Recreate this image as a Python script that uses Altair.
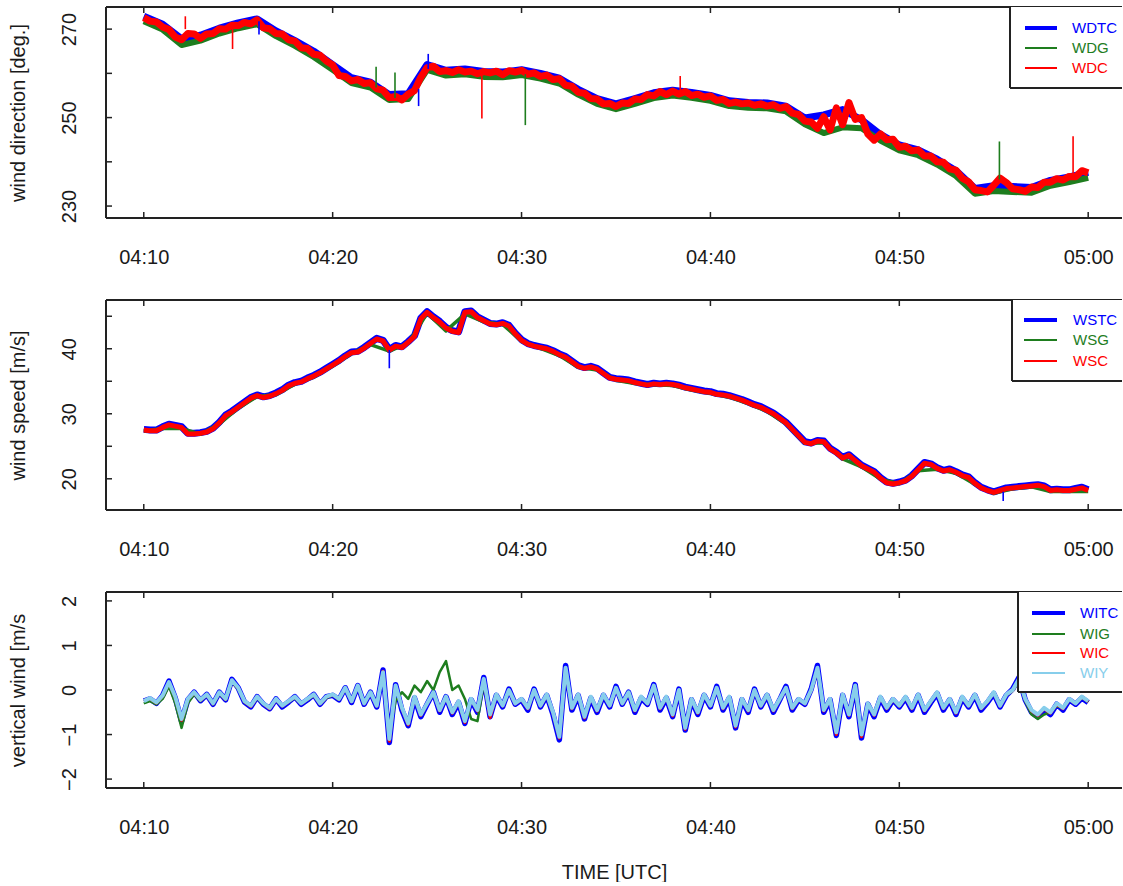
import altair as alt
import pandas as pd

# Sample clocks, minutes after 04:00 UTC
T20 = [10 + i / 3 for i in range(151)]  # 20 s resolution
T60 = list(range(10, 61))               # 1 min resolution

# ---------------- wind direction [deg.] ----------------
WDC = [
    272.6, 271.8, 271.6, 270.5, 269.9, 268.2, 267.6, 269.0, 268.9, 267.9, 268.9, 269.0, 270.1, 270.0, 270.9,
    270.8, 271.5, 271.2, 272.1, 270.3, 270.1, 269.0, 268.9, 267.6, 267.3, 265.8, 265.6, 264.3, 264.1, 262.8,
    261.9, 259.5, 259.3, 258.3, 258.6, 257.7, 257.9, 256.5, 256.2, 254.5, 254.8, 254.0, 255.3, 256.1, 259.1,
    261.3, 261.6, 260.4, 260.6, 260.2, 260.8, 260.3, 260.5, 259.9, 260.4, 260.1, 260.5, 259.7, 260.6, 260.3,
    260.7, 259.8, 260.1, 259.3, 259.6, 258.6, 258.8, 257.3, 257.1, 255.7, 255.5, 254.3, 254.2, 253.1, 253.2,
    252.5, 253.3, 253.2, 254.2, 254.1, 255.2, 254.9, 255.9, 255.2, 256.0, 255.3, 255.9, 255.0, 255.3, 254.6,
    254.9, 253.9, 254.1, 253.2, 253.5, 253.1, 253.3, 252.8, 253.1, 252.6, 252.9, 252.1, 252.5, 251.0, 250.7,
    249.2, 249.0, 247.6, 250.2, 247.2, 252.2, 248.4, 253.4, 249.6, 250.0, 246.3, 244.9, 246.3, 245.0, 245.1,
    243.3, 243.5, 242.5, 242.7, 241.3, 241.3, 240.0, 239.9, 238.4, 238.1, 236.3, 235.5, 233.7, 233.5, 233.2,
    234.7, 236.3, 235.3, 233.9, 233.7, 233.3, 234.3, 234.2, 235.4, 235.4, 236.2, 235.9, 236.7, 236.6, 238.0,
    237.5,
]
WDG = [
    271.8, 269.9, 266.4, 267.4, 269.0, 270.2, 271.1, 268.4, 266.2, 263.7, 260.8, 257.8, 256.8, 254.0, 254.2,
    260.8, 259.5, 259.8, 259.2, 259.1, 259.6, 258.8, 257.7, 255.2, 253.1, 251.9, 253.1, 254.4, 255.0, 254.5,
    253.8, 252.6, 252.2, 252.1, 251.4, 248.5, 246.5, 247.8, 247.6, 244.8, 242.6, 241.5, 239.4, 236.8, 232.8,
    233.4, 233.2, 233.0, 234.6, 235.4, 236.4,
]
WDTC = [
    272.9, 271.1, 267.8, 268.6, 270.2, 271.4, 272.3, 269.6, 267.4, 265.0, 262.0, 259.0, 258.0, 255.2, 255.4,
    262.0, 260.7, 261.0, 260.4, 260.3, 260.8, 260.0, 258.9, 256.4, 254.3, 253.1, 254.3, 255.6, 256.2, 255.7,
    255.0, 253.8, 253.4, 253.3, 252.6, 249.9, 250.6, 251.8, 249.5, 246.2, 243.8, 242.7, 240.6, 238.0, 234.0,
    234.6, 234.4, 234.2, 235.8, 236.6, 237.6,
]
# single-sample outliers: time, level, tip
WD_SPIKE_SERIES = ["WDC", "WDC", "WDC", "WDC", "WDC", "WDG", "WDG", "WDG", "WDG", "WDTC", "WDTC", "WDTC"]
WD_SPIKE_T = [12.2, 14.7, 27.9, 38.4, 59.2, 22.3, 23.3, 30.2, 55.3, 16.1, 24.55, 25.06]
WD_SPIKE_FROM = [270.0, 270.5, 260.2, 255.6, 236.6, 256.8, 254.4, 259.8, 236.0, 271.8, 256.5, 261.0]
WD_SPIKE_TO = [272.9, 265.5, 249.8, 259.4, 245.8, 261.5, 260.2, 248.3, 244.6, 268.8, 252.6, 264.4]

# ---------------- wind speed [m/s] ----------------
WSC = [
    27.5, 27.4, 27.4, 27.9, 28.3, 28.1, 27.9, 26.9, 26.9, 27.0, 27.2, 27.7, 28.6, 29.7, 30.3,
    31.0, 31.7, 32.4, 32.8, 32.5, 32.7, 33.1, 33.6, 34.3, 34.7, 34.9, 35.4, 35.8, 36.3, 36.9,
    37.5, 38.1, 38.8, 39.4, 39.5, 40.1, 40.8, 41.5, 41.2, 39.8, 40.4, 40.2, 41.0, 41.9, 44.6,
    45.6, 44.8, 44.1, 43.2, 42.7, 42.5, 45.6, 45.7, 44.8, 44.3, 43.8, 43.7, 43.9, 43.5, 42.3,
    41.3, 40.7, 40.4, 40.2, 40.0, 39.6, 39.1, 38.7, 38.0, 37.3, 37.0, 37.2, 36.9, 36.2, 35.5,
    35.3, 35.2, 35.1, 34.8, 34.6, 34.4, 34.6, 34.5, 34.6, 34.5, 34.3, 34.0, 33.8, 33.6, 33.4,
    33.3, 33.0, 32.9, 32.7, 32.4, 32.1, 31.7, 31.3, 31.0, 30.5, 30.0, 29.3, 28.6, 27.6, 26.6,
    25.6, 25.4, 25.8, 25.7, 24.6, 24.0, 23.2, 23.6, 22.8, 22.0, 21.5, 21.0, 20.1, 19.4, 19.2,
    19.4, 19.7, 20.4, 21.4, 22.4, 22.2, 21.6, 21.2, 21.4, 21.0, 20.5, 20.2, 19.3, 18.6, 18.2,
    17.9, 18.2, 18.5, 18.6, 18.7, 18.8, 18.9, 19.0, 18.8, 18.2, 18.3, 18.2, 18.2, 18.4, 18.6,
    18.2,
]
WSTC = [
    27.6, 27.5, 27.5, 28.0, 28.4, 28.2, 28.0, 27.0, 27.0, 27.1, 27.3, 27.8, 28.7, 29.8, 30.4,
    31.1, 31.8, 32.5, 32.9, 32.6, 32.8, 33.2, 33.7, 34.4, 34.8, 35.0, 35.5, 35.9, 36.4, 37.0,
    37.6, 38.2, 38.9, 39.5, 39.6, 40.2, 40.9, 41.6, 41.3, 39.9, 40.5, 40.3, 41.1, 42.0, 44.7,
    45.7, 44.9, 44.2, 43.3, 42.8, 42.6, 45.7, 45.8, 44.9, 44.4, 43.9, 43.8, 44.0, 43.6, 42.4,
    41.4, 40.8, 40.5, 40.3, 40.1, 39.7, 39.2, 38.8, 38.1, 37.4, 37.1, 37.3, 37.0, 36.3, 35.6,
    35.4, 35.3, 35.2, 34.9, 34.7, 34.5, 34.7, 34.6, 34.7, 34.6, 34.4, 34.1, 33.9, 33.7, 33.5,
    33.4, 33.1, 33.0, 32.8, 32.5, 32.2, 31.8, 31.4, 31.1, 30.6, 30.1, 29.4, 28.7, 27.7, 26.7,
    25.7, 25.5, 25.9, 25.8, 24.7, 24.1, 23.3, 23.7, 22.9, 22.1, 21.6, 21.1, 20.2, 19.5, 19.3,
    19.5, 19.8, 20.5, 21.5, 22.5, 22.3, 21.7, 21.3, 21.5, 21.1, 20.6, 20.3, 19.4, 18.7, 18.3,
    18.0, 18.3, 18.6, 18.7, 18.8, 18.9, 19.0, 19.1, 18.9, 18.3, 18.4, 18.3, 18.3, 18.5, 18.7,
    18.3,
]
WSG = [
    27.35, 27.75, 27.75, 26.85, 28.45, 30.85, 32.65, 32.95, 34.55, 35.65, 37.35, 39.25, 40.65, 39.65, 40.85,
    45.45, 42.75, 45.35, 44.15, 43.75, 41.15, 40.05, 38.95, 37.15, 36.75, 35.15, 34.65, 34.45, 34.35, 33.65,
    33.15, 32.55, 31.55, 30.35, 28.45, 25.45, 25.55, 23.05, 21.85, 19.95, 19.25, 21.25, 21.45, 20.85, 19.15,
    17.75, 18.45, 18.75, 18.05, 18.05, 18.05,
]
WS_SPIKE_SERIES = ["WSG", "WSG"]
WS_SPIKE_T = [23.0, 55.5]
WS_SPIKE_FROM = [39.8, 18.0]
WS_SPIKE_TO = [37.0, 16.6]

# ---------------- vertical wind [m/s] ----------------
WITC = [
    -0.25, -0.20, -0.30, -0.12, 0.20, -0.18, -0.70, -0.22, -0.05, -0.24, -0.10, -0.32, -0.05, -0.22, 0.24,
    0.05, -0.27, -0.38, -0.15, -0.32, -0.42, -0.20, -0.38, -0.27, -0.15, -0.32, -0.22, -0.10, -0.32, -0.15,
    -0.12, -0.22, 0.05, -0.28, 0.10, -0.32, -0.05, -0.38, 0.45, -1.18, 0.12, -0.45, -0.80, -0.18, -0.60,
    -0.32, -0.05, -0.50, -0.15, -0.55, -0.28, -0.75, -0.22, -0.50, 0.28, -0.60, -0.12, -0.38, 0.02, -0.32,
    -0.22, -0.45, 0.02, -0.38, -0.12, -0.55, -1.12, 0.55, -0.45, -0.12, -0.65, -0.18, -0.50, -0.12, -0.38,
    0.08, -0.32, -0.05, -0.50, -0.18, -0.32, 0.12, -0.45, -0.18, -0.60, 0.02, -0.90, -0.22, -0.55, -0.12,
    -0.38, 0.08, -0.45, -0.18, -0.85, -0.22, -0.50, 0.02, -0.38, -0.12, -0.50, -0.22, 0.08, -0.45, -0.22,
    -0.32, 0.02, 0.55, -0.50, -0.22, -1.02, -0.12, -0.60, 0.12, -1.08, -0.32, -0.60, -0.18, -0.45, -0.22,
    -0.38, -0.18, -0.45, -0.12, -0.50, -0.28, -0.08, -0.45, -0.22, -0.55, -0.18, -0.38, -0.12, -0.45, -0.28,
    -0.08, -0.38, -0.12, 0.02, 0.28, -0.22, -0.50, -0.60, -0.45, -0.55, -0.32, -0.45, -0.22, -0.32, -0.18,
    -0.28,
]
WIG = [
    -0.30, -0.25, -0.32, -0.20, 0.08, -0.30, -0.85, -0.30, -0.10, -0.25, -0.12, -0.32, -0.08, -0.22, 0.18,
    0.02, -0.28, -0.36, -0.18, -0.32, -0.40, -0.22, -0.36, -0.27, -0.18, -0.31, -0.22, -0.13, -0.31, -0.18,
    -0.12, -0.22, 0.03, -0.26, 0.08, -0.31, -0.07, -0.33, 0.35, -0.90, -0.25, -0.05, -0.20, 0.10, -0.05,
    0.20, 0.00, 0.40, 0.65, 0.00, 0.10, -0.20, -0.65, -0.70, 0.15, -0.50, -0.10, -0.35, 0.00, -0.30,
    -0.22, -0.41, -0.02, -0.36, -0.12, -0.51, -1.00, 0.45, -0.41, -0.12, -0.60, -0.17, -0.46, -0.12, -0.36,
    0.03, -0.31, -0.07, -0.46, -0.17, -0.31, 0.08, -0.41, -0.17, -0.56, -0.02, -0.84, -0.22, -0.51, -0.12,
    -0.36, 0.03, -0.41, -0.17, -0.79, -0.22, -0.46, -0.02, -0.36, -0.12, -0.46, -0.22, 0.03, -0.41, -0.22,
    -0.31, -0.02, 0.47, -0.46, -0.22, -0.93, -0.12, -0.56, 0.08, -0.97, -0.31, -0.56, -0.17, -0.41, -0.22,
    -0.36, -0.17, -0.41, -0.12, -0.46, -0.27, -0.07, -0.41, -0.22, -0.51, -0.17, -0.36, -0.12, -0.41, -0.27,
    -0.07, -0.36, -0.12, -0.02, 0.20, -0.25, -0.55, -0.65, -0.55, -0.50, -0.35, -0.42, -0.22, -0.31, -0.17,
    -0.27,
]
WIC = [
    -0.24, -0.19, -0.29, -0.13, 0.17, -0.16, -0.68, -0.21, -0.06, -0.23, -0.11, -0.31, -0.06, -0.21, 0.20,
    0.04, -0.26, -0.37, -0.16, -0.31, -0.42, -0.21, -0.36, -0.26, -0.16, -0.31, -0.21, -0.11, -0.31, -0.16,
    -0.11, -0.21, 0.04, -0.26, 0.09, -0.31, -0.06, -0.36, 0.42, -1.15, 0.09, -0.42, -0.78, -0.16, -0.57,
    -0.31, -0.06, -0.47, -0.16, -0.52, -0.26, -0.73, -0.21, -0.47, 0.23, -0.62, -0.11, -0.36, -0.01, -0.31,
    -0.21, -0.42, -0.01, -0.36, -0.11, -0.52, -1.08, 0.48, -0.42, -0.11, -0.63, -0.16, -0.47, -0.11, -0.36,
    0.04, -0.31, -0.06, -0.47, -0.16, -0.31, 0.09, -0.42, -0.16, -0.58, -0.01, -0.88, -0.21, -0.52, -0.11,
    -0.36, 0.04, -0.42, -0.16, -0.83, -0.21, -0.47, -0.01, -0.36, -0.11, -0.47, -0.21, 0.04, -0.42, -0.21,
    -0.31, -0.01, 0.48, -0.47, -0.21, -1.00, -0.11, -0.57, 0.09, -1.05, -0.31, -0.57, -0.16, -0.42, -0.21,
    -0.36, -0.16, -0.42, -0.11, -0.47, -0.26, -0.06, -0.42, -0.21, -0.52, -0.16, -0.36, -0.11, -0.42, -0.26,
    -0.06, -0.36, -0.11, -0.01, 0.23, -0.21, -0.47, -0.57, -0.42, -0.52, -0.31, -0.42, -0.21, -0.31, -0.16,
    -0.26,
]
WIY = [
    -0.25, -0.18, -0.28, -0.12, 0.18, -0.15, -0.65, -0.20, -0.05, -0.22, -0.10, -0.30, -0.05, -0.20, 0.22,
    0.05, -0.25, -0.35, -0.15, -0.30, -0.40, -0.20, -0.35, -0.25, -0.15, -0.30, -0.20, -0.10, -0.30, -0.15,
    -0.10, -0.20, 0.05, -0.25, 0.10, -0.30, -0.05, -0.35, 0.40, -1.10, 0.10, -0.40, -0.75, -0.15, -0.55,
    -0.30, -0.05, -0.45, -0.15, -0.50, -0.25, -0.70, -0.20, -0.45, 0.25, -0.55, -0.10, -0.35, 0.00, -0.30,
    -0.20, -0.40, 0.00, -0.35, -0.10, -0.50, -1.05, 0.50, -0.40, -0.10, -0.60, -0.15, -0.45, -0.10, -0.35,
    0.05, -0.30, -0.05, -0.45, -0.15, -0.30, 0.10, -0.40, -0.15, -0.55, 0.00, -0.85, -0.20, -0.50, -0.10,
    -0.35, 0.05, -0.40, -0.15, -0.80, -0.20, -0.45, 0.00, -0.35, -0.10, -0.45, -0.20, 0.05, -0.40, -0.20,
    -0.30, 0.00, 0.50, -0.45, -0.20, -0.95, -0.10, -0.55, 0.10, -1.00, -0.30, -0.55, -0.15, -0.40, -0.20,
    -0.35, -0.15, -0.40, -0.10, -0.45, -0.25, -0.05, -0.40, -0.20, -0.50, -0.15, -0.35, -0.10, -0.40, -0.25,
    -0.05, -0.35, -0.10, 0.00, 0.25, -0.20, -0.45, -0.55, -0.40, -0.50, -0.30, -0.40, -0.20, -0.30, -0.15,
    -0.25,
]

# ---------------- axes ----------------
X_TICKS = [10, 20, 30, 40, 50, 60]
WD_LABELS, WD_TICKS = [230, 250, 270], [230, 240, 250, 260, 270]
WS_LABELS, WS_TICKS = [20, 30, 40], [20, 25, 30, 35, 40, 45]
WI_LABELS = WI_TICKS = [-2, -1, 0, 1, 2]

FONT = "Liberation Sans"
INK = "#1a1a1a"
BLUE, GREEN, RED, SKY = "#0000FF", "#1E7D1E", "#FF0000", "#87CEEB"

W = 1016            # plot width in px
XDOM = [8, 61.79]   # minutes after 04:00
TICK = 6            # inward tick length
ONE = pd.DataFrame({"k": [0]})


def panel(lines, spikes, ydom, ylabels, yticks, ytitle, legend, height, xtitle=None):
    xs = alt.Scale(domain=XDOM, nice=False, zero=False)
    ys = alt.Scale(domain=ydom, nice=False, zero=False)
    xax = alt.Axis(
        values=X_TICKS, grid=False, domain=False, ticks=False, tickSize=0,
        labelExpr="datum.value >= 60 ? '05:00' : '04:' + datum.value",
        labelFont=FONT, labelFontSize=20, labelColor=INK, labelPadding=29,
        labelFlush=False, minExtent=50, maxExtent=50,
        title=xtitle, titleFont=FONT, titleFontSize=20, titleFontWeight="normal",
        titleColor=INK, titlePadding=24,
    )
    yax = alt.Axis(
        values=ylabels, grid=False, domain=False, ticks=False, tickSize=0,
        labelAngle=-90, labelAlign="center", labelBaseline="bottom",
        labelFont=FONT, labelFontSize=20, labelColor=INK, labelPadding=27,
        minExtent=50, maxExtent=50,
        title=ytitle, titleFont=FONT, titleFontSize=20, titleFontWeight="normal",
        titleColor=INK, titlePadding=28,
    )

    def X():
        return alt.X("t:Q", scale=xs, axis=xax)

    def Y():
        return alt.Y("v:Q", scale=ys, axis=yax)

    layers = []
    # measured series, drawn in plotting order
    for t, v, color, sw in lines:
        layers.append(
            alt.Chart(pd.DataFrame({"t": t, "v": v}))
            .mark_line(color=color, strokeWidth=sw, clip=True, strokeJoin="round")
            .encode(x=X(), y=Y())
        )
    if spikes is not None:
        names, tt, v0, v1, colors = spikes
        layers.append(
            alt.Chart(pd.DataFrame({"s": names, "t": tt, "v": v0, "v2": v1}))
            .mark_rule(strokeWidth=1.6, clip=True)
            .encode(
                x=X(), y=Y(), y2="v2:Q",
                color=alt.Color("s:N", scale=alt.Scale(domain=list(colors), range=list(colors.values())), legend=None),
            )
        )

    # frame (left, top, bottom)
    frame = dict(color="#222222", strokeWidth=2)
    layers.append(alt.Chart(ONE).mark_rule(**frame).encode(x=alt.value(0), x2=alt.value(W), y=alt.value(0)))
    layers.append(alt.Chart(ONE).mark_rule(**frame).encode(x=alt.value(0), x2=alt.value(W), y=alt.value(height)))
    layers.append(alt.Chart(ONE).mark_rule(**frame).encode(x=alt.value(0), y=alt.value(0), y2=alt.value(height)))

    # inward ticks
    tk = dict(color="#222222", strokeWidth=1.5)
    xt = pd.DataFrame({"t": X_TICKS})
    layers.append(alt.Chart(xt).mark_rule(**tk).encode(x=X(), y=alt.value(0), y2=alt.value(TICK)))
    layers.append(alt.Chart(xt).mark_rule(**tk).encode(x=X(), y=alt.value(height), y2=alt.value(height - TICK)))
    layers.append(
        alt.Chart(pd.DataFrame({"v": yticks})).mark_rule(**tk).encode(x=alt.value(0), x2=alt.value(TICK), y=Y())
    )

    # legend box
    bx, bb, lx0, lx1, tx, rows = legend
    layers.append(alt.Chart(ONE).mark_rect(fill="white").encode(
        x=alt.value(bx), x2=alt.value(W), y=alt.value(0), y2=alt.value(bb)))
    layers.append(alt.Chart(ONE).mark_rule(**frame).encode(x=alt.value(bx), y=alt.value(0), y2=alt.value(bb)))
    layers.append(alt.Chart(ONE).mark_rule(**frame).encode(x=alt.value(bx), x2=alt.value(W), y=alt.value(bb)))
    for name, color, sw, ry in rows:
        layers.append(alt.Chart(ONE).mark_rule(color=color, strokeWidth=sw).encode(
            x=alt.value(lx0), x2=alt.value(lx1), y=alt.value(ry)))
        layers.append(alt.Chart(ONE).mark_text(
            text=name, color=color, font=FONT, fontSize=15, align="left", baseline="middle"
        ).encode(x=alt.value(tx), y=alt.value(ry)))

    return alt.layer(*layers).properties(width=W, height=height)


p1 = panel(
    lines=[(T60, WDTC, BLUE, 7), (T60, WDG, GREEN, 6), (T20, WDC, RED, 7)],
    spikes=(WD_SPIKE_SERIES, WD_SPIKE_T, WD_SPIKE_FROM, WD_SPIKE_TO, {"WDTC": BLUE, "WDG": GREEN, "WDC": RED}),
    ydom=[227.3, 275.0], ylabels=WD_LABELS, yticks=WD_TICKS, ytitle="wind direction [deg.]",
    legend=(904, 81, 919, 951, 966, [("WDTC", BLUE, 4, 21), ("WDG", GREEN, 2, 41), ("WDC", RED, 2, 61)]),
    height=211,
)
p2 = panel(
    lines=[(T20, WSTC, BLUE, 7), (T60, WSG, GREEN, 3.5), (T20, WSC, RED, 5)],
    spikes=(WS_SPIKE_SERIES, WS_SPIKE_T, WS_SPIKE_FROM, WS_SPIKE_TO, {"WSG": GREEN}),
    ydom=[15.2, 47.5], ylabels=WS_LABELS, yticks=WS_TICKS, ytitle="wind speed [m/s]",
    legend=(906, 81, 918, 951, 967, [("WSTC", BLUE, 4, 20), ("WSG", GREEN, 2, 40), ("WSC", RED, 2, 61)]),
    height=210,
)
p3 = panel(
    lines=[(T20, WITC, BLUE, 5.5), (T20, WIG, GREEN, 2.5), (T20, WIC, RED, 3), (T20, WIY, SKY, 4)],
    spikes=None,
    ydom=[-2.2, 2.2], ylabels=WI_LABELS, yticks=WI_TICKS, ytitle="vertical wind [m/s",
    legend=(912, 100, 926, 959, 974, [("WITC", BLUE, 4, 21), ("WIG", GREEN, 2, 42), ("WIC", RED, 2, 61), ("WIY", SKY, 2, 81)]),
    height=196, xtitle="TIME [UTC]",
)

chart = (
    alt.vconcat(p1, p2, p3, spacing=31)
    .properties(padding={"left": 8, "top": 6, "right": 0, "bottom": 0}, background="white")
    .configure_view(stroke=None)
)

chart.save("out.html", embed_options={"renderer": "svg", "actions": False})
